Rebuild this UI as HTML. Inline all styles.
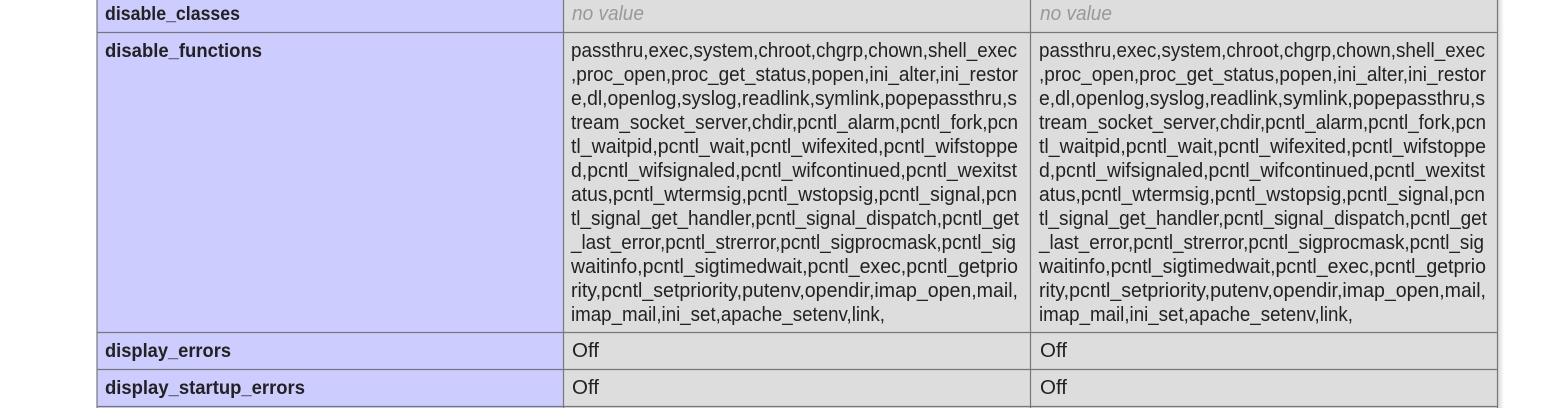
<!DOCTYPE html>
<html><head><meta charset="utf-8"><style>
html,body{margin:0;padding:0;background:#fff;width:1554px;height:408px;overflow:hidden}
svg{display:block}
text{font-family:"Liberation Sans",sans-serif;font-size:20px;fill:#222}
.b{font-weight:bold;font-size:19px}
.i{font-style:italic;fill:#999}
</style></head><body>
<svg width="1554" height="408" xmlns="http://www.w3.org/2000/svg">
<defs><linearGradient id="sh" x1="0" x2="1"><stop offset="0" stop-color="#d8d8d8"/><stop offset="1" stop-color="#fff"/></linearGradient></defs>
<rect x="1498" y="0" width="6" height="408" fill="url(#sh)"/>
<rect x="97" y="0" width="466" height="408" fill="#ccccff"/>
<rect x="563" y="0" width="934" height="408" fill="#dddddd"/>
<g stroke="#777" stroke-width="1.2">
<line x1="97" y1="0" x2="97" y2="408"/>
<line x1="563.5" y1="0" x2="563.5" y2="408"/>
<line x1="1030.5" y1="0" x2="1030.5" y2="408"/>
<line x1="1497.5" y1="0" x2="1497.5" y2="408"/>
<line x1="97" y1="32.5" x2="1498" y2="32.5"/>
<line x1="97" y1="332.5" x2="1498" y2="332.5"/>
<line x1="97" y1="369.5" x2="1498" y2="369.5"/>
<line x1="97" y1="406.5" x2="1498" y2="406.5"/>
</g>
<text class="b" x="105" y="20" textLength="135" lengthAdjust="spacingAndGlyphs">disable_classes</text>
<text class="b" x="105" y="57" textLength="157" lengthAdjust="spacingAndGlyphs">disable_functions</text>
<text class="b" x="105" y="357" textLength="126" lengthAdjust="spacingAndGlyphs">display_errors</text>
<text class="b" x="105" y="394" textLength="200" lengthAdjust="spacingAndGlyphs">display_startup_errors</text>
<text class="i" x="572" y="20" textLength="72" lengthAdjust="spacingAndGlyphs">no value</text>
<text class="i" x="1040" y="20" textLength="72" lengthAdjust="spacingAndGlyphs">no value</text>
<text x="572" y="357" textLength="27" lengthAdjust="spacingAndGlyphs">Off</text><text x="1040" y="357" textLength="27" lengthAdjust="spacingAndGlyphs">Off</text>
<text x="572" y="394" textLength="27" lengthAdjust="spacingAndGlyphs">Off</text><text x="1040" y="394" textLength="27" lengthAdjust="spacingAndGlyphs">Off</text>
<g>
<text x="571" y="57" textLength="446" lengthAdjust="spacingAndGlyphs">passthru,exec,system,chroot,chgrp,chown,shell_exec</text>
<text x="571" y="81" textLength="447" lengthAdjust="spacingAndGlyphs">,proc_open,proc_get_status,popen,ini_alter,ini_restor</text>
<text x="571" y="105" textLength="446" lengthAdjust="spacingAndGlyphs">e,dl,openlog,syslog,readlink,symlink,popepassthru,s</text>
<text x="571" y="129" textLength="447" lengthAdjust="spacingAndGlyphs">tream_socket_server,chdir,pcntl_alarm,pcntl_fork,pcn</text>
<text x="571" y="153" textLength="447" lengthAdjust="spacingAndGlyphs">tl_waitpid,pcntl_wait,pcntl_wifexited,pcntl_wifstoppe</text>
<text x="571" y="177" textLength="446" lengthAdjust="spacingAndGlyphs">d,pcntl_wifsignaled,pcntl_wifcontinued,pcntl_wexitst</text>
<text x="571" y="201" textLength="446" lengthAdjust="spacingAndGlyphs">atus,pcntl_wtermsig,pcntl_wstopsig,pcntl_signal,pcn</text>
<text x="571" y="225" textLength="448" lengthAdjust="spacingAndGlyphs">tl_signal_get_handler,pcntl_signal_dispatch,pcntl_get</text>
<text x="571" y="249" textLength="445" lengthAdjust="spacingAndGlyphs">_last_error,pcntl_strerror,pcntl_sigprocmask,pcntl_sig</text>
<text x="571" y="273" textLength="447" lengthAdjust="spacingAndGlyphs">waitinfo,pcntl_sigtimedwait,pcntl_exec,pcntl_getprio</text>
<text x="571" y="297" textLength="447" lengthAdjust="spacingAndGlyphs">rity,pcntl_setpriority,putenv,opendir,imap_open,mail,</text>
<text x="571" y="321" textLength="314" lengthAdjust="spacingAndGlyphs">imap_mail,ini_set,apache_setenv,link,</text>
</g>
<g transform="translate(468,0)">
<text x="571" y="57" textLength="446" lengthAdjust="spacingAndGlyphs">passthru,exec,system,chroot,chgrp,chown,shell_exec</text>
<text x="571" y="81" textLength="447" lengthAdjust="spacingAndGlyphs">,proc_open,proc_get_status,popen,ini_alter,ini_restor</text>
<text x="571" y="105" textLength="446" lengthAdjust="spacingAndGlyphs">e,dl,openlog,syslog,readlink,symlink,popepassthru,s</text>
<text x="571" y="129" textLength="447" lengthAdjust="spacingAndGlyphs">tream_socket_server,chdir,pcntl_alarm,pcntl_fork,pcn</text>
<text x="571" y="153" textLength="447" lengthAdjust="spacingAndGlyphs">tl_waitpid,pcntl_wait,pcntl_wifexited,pcntl_wifstoppe</text>
<text x="571" y="177" textLength="446" lengthAdjust="spacingAndGlyphs">d,pcntl_wifsignaled,pcntl_wifcontinued,pcntl_wexitst</text>
<text x="571" y="201" textLength="446" lengthAdjust="spacingAndGlyphs">atus,pcntl_wtermsig,pcntl_wstopsig,pcntl_signal,pcn</text>
<text x="571" y="225" textLength="448" lengthAdjust="spacingAndGlyphs">tl_signal_get_handler,pcntl_signal_dispatch,pcntl_get</text>
<text x="571" y="249" textLength="445" lengthAdjust="spacingAndGlyphs">_last_error,pcntl_strerror,pcntl_sigprocmask,pcntl_sig</text>
<text x="571" y="273" textLength="447" lengthAdjust="spacingAndGlyphs">waitinfo,pcntl_sigtimedwait,pcntl_exec,pcntl_getprio</text>
<text x="571" y="297" textLength="447" lengthAdjust="spacingAndGlyphs">rity,pcntl_setpriority,putenv,opendir,imap_open,mail,</text>
<text x="571" y="321" textLength="314" lengthAdjust="spacingAndGlyphs">imap_mail,ini_set,apache_setenv,link,</text>
</g>
</svg>
</body></html>
